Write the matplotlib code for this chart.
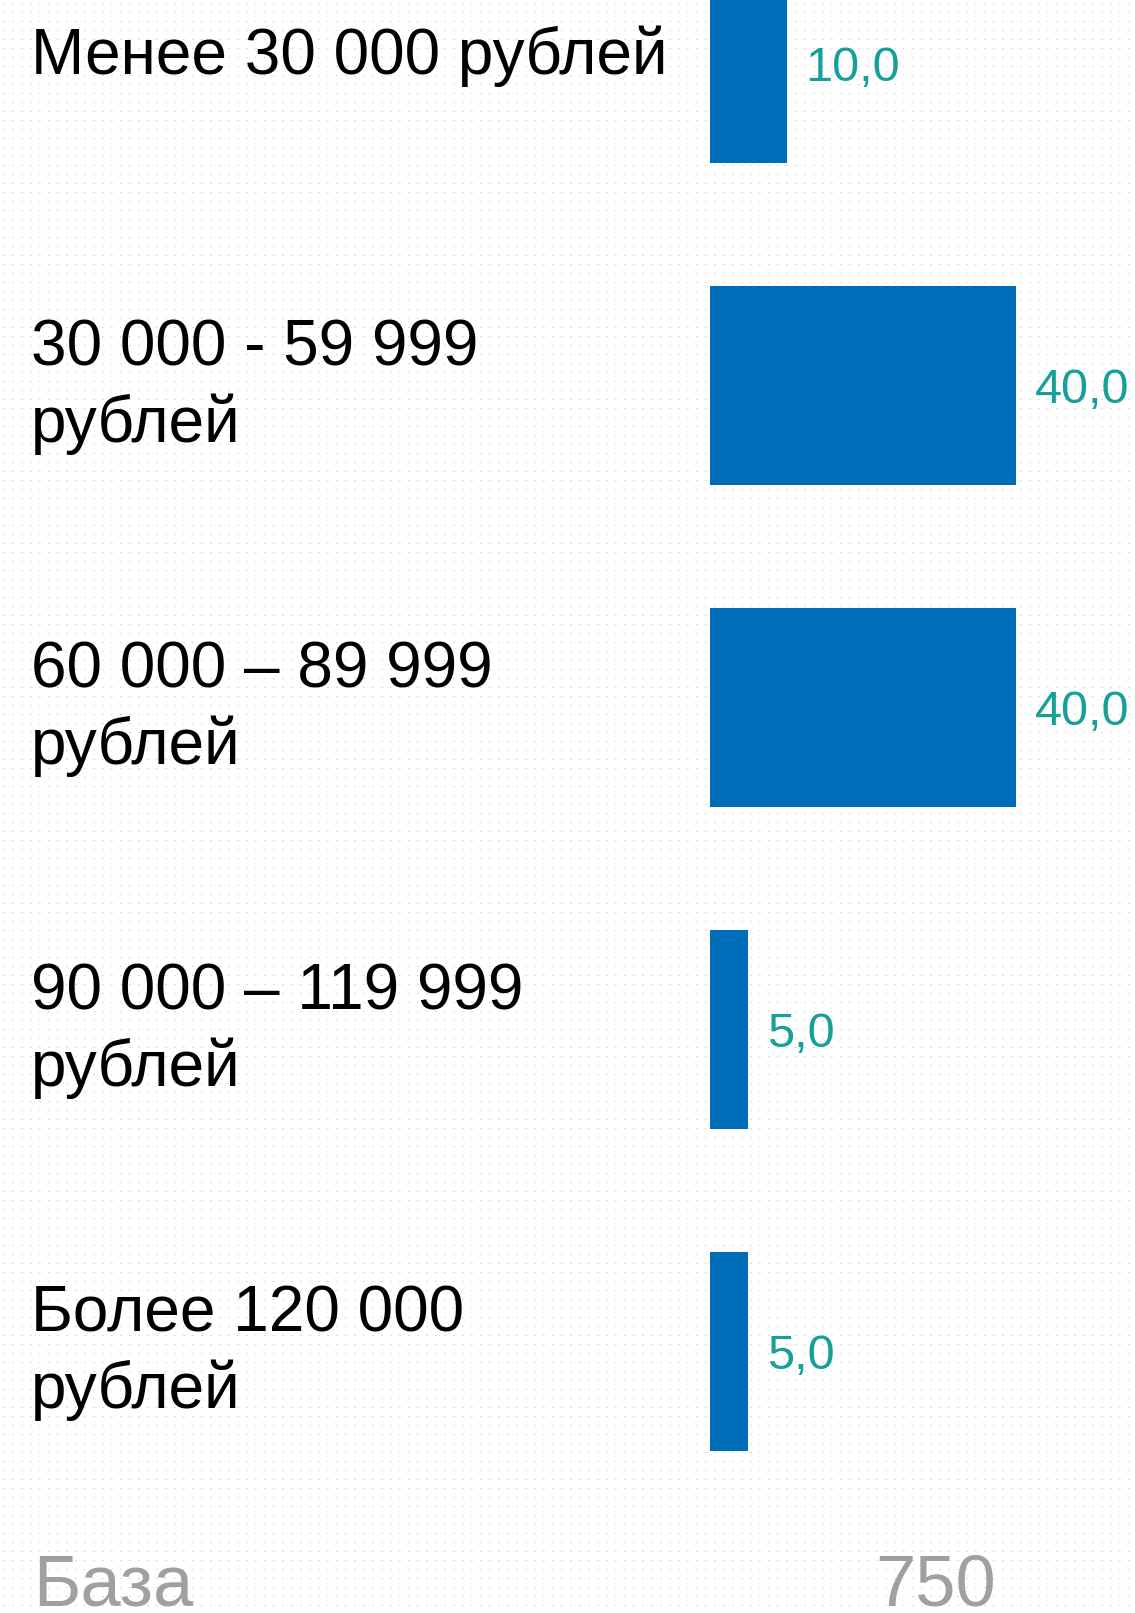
import numpy as np
import matplotlib
matplotlib.use("Agg")
import matplotlib.pyplot as plt
from matplotlib.transforms import blended_transform_factory

# data
categories = ["Менее 30 000 рублей", "30 000 - 59 999\nрублей", "60 000 – 89 999\nрублей",
              "90 000 – 119 999\nрублей", "Более 120 000\nрублей"]
values = [10.0, 40.0, 40.0, 5.0, 5.0]
value_labels = ["10,0", "40,0", "40,0", "5,0", "5,0"]
base_label = "База"
base_value = "750"

W, H = 1135, 1613
fig = plt.figure(figsize=(W / 100, H / 100), dpi=100)
fig.patch.set_facecolor("white")

# dotted background
bg = np.ones((H, W, 3))
bg[3::9, 3::9] = 0.84
bg[3::9, 4::9] = 0.88
fig.figimage(bg, 0, 0, zorder=-5)

step = 322.0
top_off = 63.0 / step
ax = fig.add_axes([710 / W, 0, 421 / W, 1], zorder=2)
ax.patch.set_alpha(0)
pos = np.arange(len(categories))
ax.barh(pos, values, height=199 / step, color="#006DB8", left=0)
ax.set_xlim(0, 55)
ax.set_ylim(-top_off + H / step, -top_off)
ax.axis("off")

for p, v, lab in zip(pos, values, value_labels):
    ax.text(v + 2.4, p, lab, color="#17A09A", fontsize=35, family="Liberation Sans",
            va="center_baseline", ha="left")

tr = blended_transform_factory(fig.transFigure, ax.transData)
for p, c in zip(pos, categories):
    dy = 0.005 if "\n" in c else -0.02
    ax.text(31 / W, p + dy, c, transform=tr, fontsize=46, family="Liberation Sans",
            va="center", ha="left", color="black", linespacing=1.3, clip_on=False)

fig.text(33 / W, 1 - 1605 / H, base_label, fontsize=52, color="#A0A0A0",
         family="Liberation Sans", va="baseline", ha="left")
fig.text(875 / W, 1 - 1605 / H, base_value, fontsize=52, color="#A0A0A0",
         family="Liberation Sans", va="baseline", ha="left")

fig.savefig("out.png", dpi=100)
